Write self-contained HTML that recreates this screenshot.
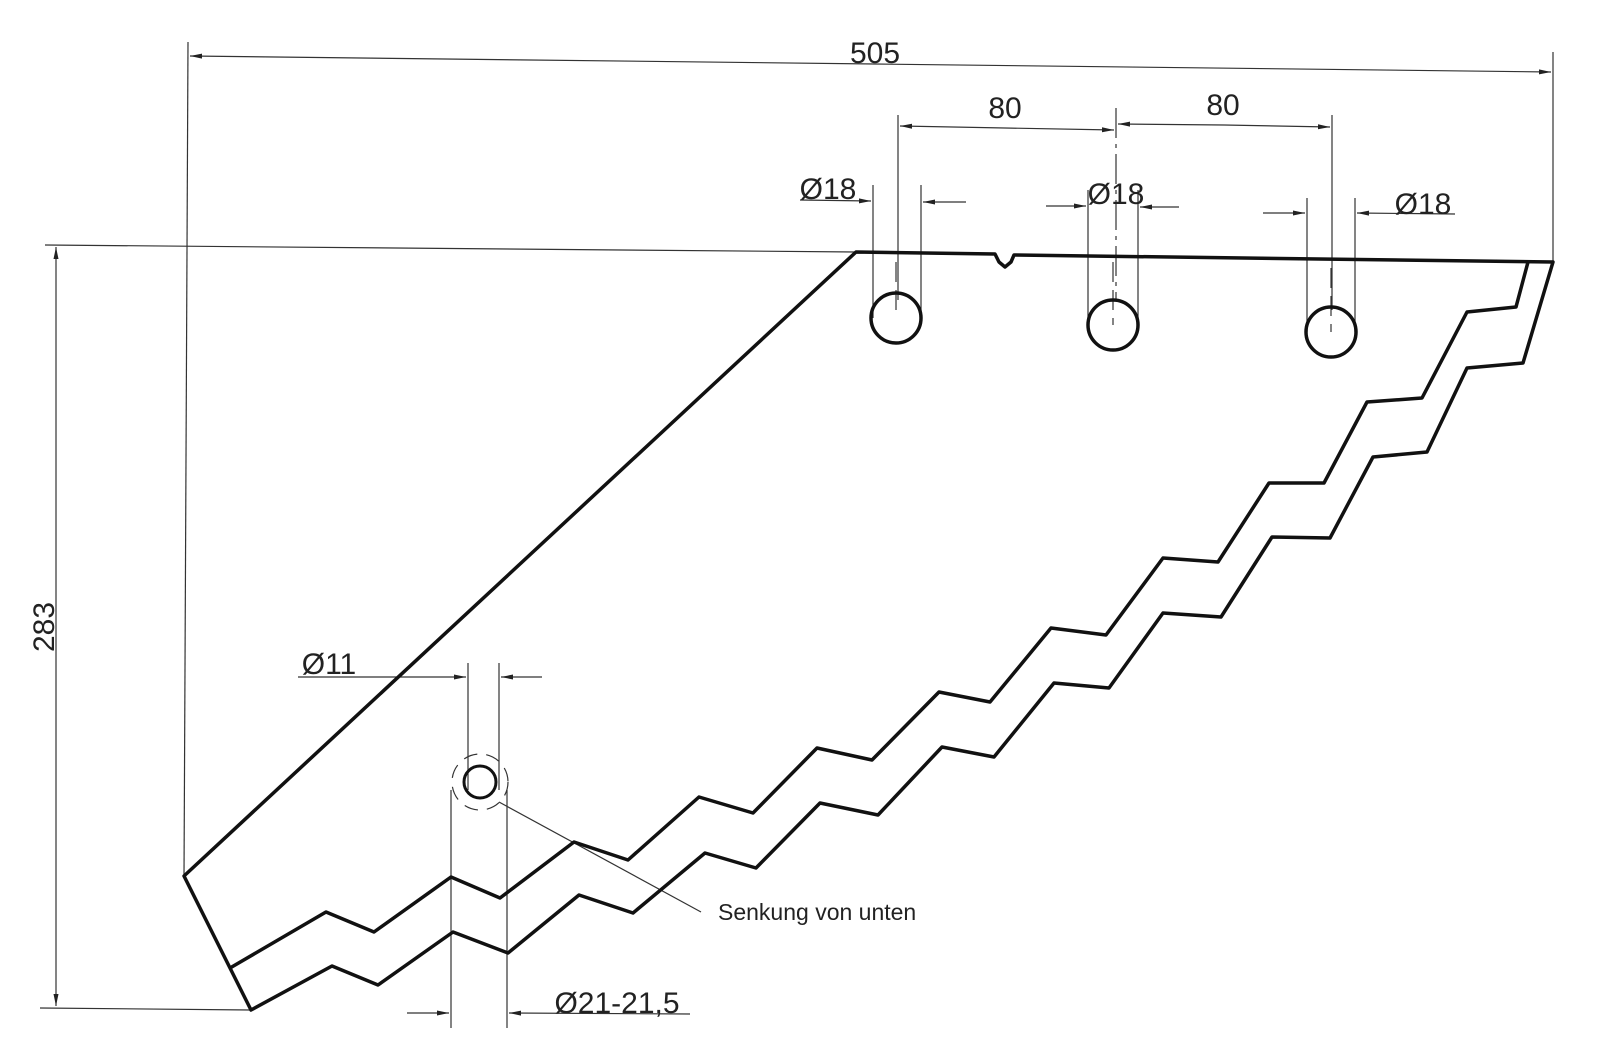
<!DOCTYPE html>
<html><head><meta charset="utf-8"><style>
html,body{margin:0;padding:0;background:#fff;}
svg{display:block;}
text{font-family:"Liberation Sans",sans-serif;fill:#222;}
</style></head><body>
<svg width="1600" height="1050" viewBox="0 0 1600 1050" xmlns="http://www.w3.org/2000/svg">
<defs>
<marker id="a" viewBox="0 0 12 6" refX="12" refY="3" markerWidth="12" markerHeight="6" orient="auto" markerUnits="userSpaceOnUse">
<path d="M0,0.5 L12,3 L0,5.5 Z" fill="#222"/></marker>
</defs>
<g stroke="#333" stroke-width="1.2" fill="none">
<!-- 505 -->
<line x1="188" y1="42" x2="184" y2="876"/>
<line x1="1553" y1="52" x2="1553" y2="262"/>
<line x1="875" y1="64" x2="190" y2="56" marker-end="url(#a)"/>
<line x1="875" y1="64" x2="1551" y2="72" marker-end="url(#a)"/>
<!-- 80 -->
<line x1="898" y1="115" x2="898" y2="300"/>
<line x1="1116" y1="108" x2="1116" y2="300" stroke-dasharray="30,6,4,6"/>
<line x1="1332" y1="115" x2="1332" y2="310"/>
<line x1="1005" y1="128" x2="900" y2="126" marker-end="url(#a)"/>
<line x1="1005" y1="128" x2="1114" y2="130" marker-end="url(#a)"/>
<line x1="1224" y1="125" x2="1118" y2="124" marker-end="url(#a)"/>
<line x1="1224" y1="125" x2="1330" y2="127" marker-end="url(#a)"/>
<!-- Ø18 -->
<line x1="873" y1="185" x2="873" y2="318"/>
<line x1="921" y1="185" x2="921" y2="318"/>
<line x1="800" y1="200" x2="871" y2="201" marker-end="url(#a)"/>
<line x1="966" y1="202" x2="923" y2="202" marker-end="url(#a)"/>
<line x1="1088" y1="190" x2="1088" y2="325"/>
<line x1="1138" y1="190" x2="1138" y2="325"/>
<line x1="1046" y1="206" x2="1086" y2="206" marker-end="url(#a)"/>
<line x1="1179" y1="207" x2="1140" y2="207" marker-end="url(#a)"/>
<line x1="1307" y1="198" x2="1307" y2="332"/>
<line x1="1355" y1="198" x2="1355" y2="332"/>
<line x1="1263" y1="213" x2="1305" y2="213" marker-end="url(#a)"/>
<line x1="1455" y1="214" x2="1357" y2="213" marker-end="url(#a)"/>
<!-- hole center dashes -->
<line x1="896" y1="262" x2="896" y2="318" stroke-dasharray="20,8"/>
<line x1="1113" y1="262" x2="1113" y2="325" stroke-dasharray="20,8"/>
<line x1="1331" y1="268" x2="1331" y2="332" stroke-dasharray="20,8"/>
<!-- 283 -->
<line x1="45" y1="245" x2="856" y2="252"/>
<line x1="40" y1="1008" x2="251" y2="1010"/>
<line x1="56" y1="630" x2="56" y2="247" marker-end="url(#a)"/>
<line x1="56" y1="630" x2="56" y2="1006" marker-end="url(#a)"/>
<!-- Ø11 -->
<line x1="468" y1="663" x2="468" y2="790"/>
<line x1="499" y1="663" x2="499" y2="790"/>
<line x1="298" y1="677" x2="466" y2="677" marker-end="url(#a)"/>
<line x1="542" y1="677" x2="501" y2="677" marker-end="url(#a)"/>
<!-- Ø21 -->
<line x1="451" y1="790" x2="451" y2="1028"/>
<line x1="507" y1="790" x2="507" y2="1028"/>
<line x1="407" y1="1013" x2="449" y2="1013" marker-end="url(#a)"/>
<line x1="690" y1="1014" x2="509" y2="1013" marker-end="url(#a)"/>
<!-- leader -->
<line x1="499" y1="802" x2="701" y2="912"/>
<circle cx="480" cy="782" r="28" stroke-dasharray="14,9"/>
</g>
<g stroke="#111" stroke-width="3.5" fill="none" stroke-linejoin="round">
<path d="M45,245 L856,252"  stroke-width="0"/>
<path d="M856,252 L995,254 L999,262 L1005,267 L1011,262 L1014,255 L1553,262 L1523,363 L1467,368 L1427,452 L1373,457 L1330,538 L1272,537 L1221,617 L1163,613 L1109,688 L1054,683 L994,757 L942,747 L878,815 L820,803 L756,868 L705,853 L633,913 L579,895 L508,953 L453,932 L378,985 L332,966 L251,1010 L184,876 Z"/>
<path d="M1528,262 L1516,307 L1467,312 L1422,398 L1367,402 L1324,483 L1269,483 L1218,562 L1163,558 L1106,635 L1051,628 L990,702 L939,692 L872,760 L817,748 L753,813 L699,797 L628,860 L574,842 L500,898 L451,877 L374,932 L326,912 L230,968"/>
<circle cx="896" cy="318" r="25"/>
<circle cx="1113" cy="325" r="25"/>
<circle cx="1331" cy="332" r="25"/>
<circle cx="480" cy="782" r="16" stroke-width="3"/>
</g>
<g font-size="30">
<text x="875" y="63" text-anchor="middle">505</text>
<text x="1005" y="118" text-anchor="middle">80</text>
<text x="1223" y="115" text-anchor="middle">80</text>
<text x="828" y="199" text-anchor="middle">Ø18</text>
<text x="1116" y="204" text-anchor="middle">Ø18</text>
<text x="1423" y="214" text-anchor="middle">Ø18</text>
<text x="329" y="674" text-anchor="middle">Ø11</text>
<text x="617" y="1013" text-anchor="middle">Ø21-21,5</text>
<text x="0" y="0" text-anchor="middle" transform="translate(54,627) rotate(-90)">283</text>
</g>
<text x="718" y="920" font-size="23">Senkung von unten</text>
</svg>
</body></html>
